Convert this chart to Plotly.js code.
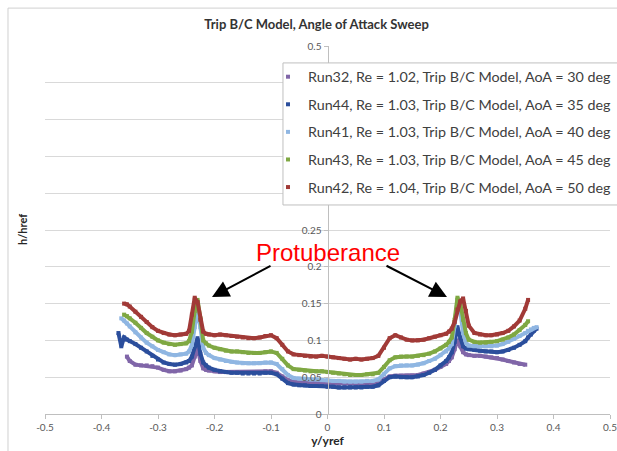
<!DOCTYPE html>
<html>
<head>
<meta charset="utf-8">
<script src="https://cdn.plot.ly/plotly-3.0.1.min.js"></script>
<style>
  html, body { margin: 0; padding: 0; background: #ffffff; }
  #chart { width: 617px; height: 451px; }
</style>
</head>
<body>
<div id="chart"></div>
<script>
// Spanwise stations y/yref shared by all runs
const X = [-0.37,-0.365,-0.36,-0.355,-0.35,-0.34,-0.33,-0.32,-0.31,-0.30,
  -0.29,-0.28,-0.27,-0.26,-0.25,-0.245,-0.24,-0.235,-0.23,-0.225,
  -0.22,-0.215,-0.21,-0.20,-0.19,-0.18,-0.17,-0.16,-0.15,-0.14,
  -0.13,-0.12,-0.11,-0.10,-0.09,-0.08,-0.07,-0.06,-0.05,-0.04,
  -0.03,-0.02,-0.01,0,0.01,0.02,0.03,0.04,0.05,0.06,
  0.07,0.08,0.09,0.10,0.11,0.12,0.13,0.14,0.15,0.16,
  0.17,0.18,0.19,0.20,0.21,0.215,0.22,0.225,0.23,0.235,
  0.24,0.245,0.25,0.26,0.27,0.28,0.29,0.30,0.31,0.32,
  0.33,0.34,0.35,0.355,0.36,0.365,0.37];

// h/href for each run
const run32 = [null,null,null,0.078,0.072,0.067,0.066,0.066,0.065,0.063,
  0.060,0.058,0.058,0.059,0.061,0.063,0.066,0.078,0.090,0.072,
  0.062,0.060,0.059,0.058,0.057,0.057,0.057,0.057,0.057,0.057,
  0.057,0.057,0.058,0.058,0.056,0.051,0.046,0.044,0.043,0.043,
  0.042,0.042,0.042,0.042,0.041,0.041,0.041,0.041,0.041,0.041,
  0.041,0.042,0.043,0.047,0.051,0.052,0.052,0.052,0.052,0.053,
  0.055,0.057,0.060,0.064,0.068,0.072,0.077,0.088,0.100,0.092,
  0.084,0.081,0.080,0.079,0.079,0.078,0.077,0.076,0.074,0.072,
  0.070,0.068,0.067,null,null,null,null];

const run44 = [0.110,0.092,0.104,0.101,0.099,0.095,0.090,0.085,0.079,0.074,
  0.070,0.068,0.067,0.068,0.070,0.072,0.078,0.092,0.103,0.082,
  0.070,0.066,0.063,0.060,0.058,0.057,0.056,0.056,0.055,0.055,
  0.055,0.055,0.056,0.056,0.054,0.048,0.042,0.040,0.039,0.039,
  0.038,0.038,0.038,0.037,0.037,0.036,0.036,0.036,0.036,0.036,
  0.037,0.037,0.039,0.045,0.050,0.051,0.050,0.050,0.050,0.051,
  0.053,0.056,0.060,0.066,0.072,0.077,0.084,0.098,0.118,0.104,
  0.092,0.089,0.088,0.087,0.086,0.085,0.085,0.084,0.085,0.087,
  0.090,0.094,0.099,0.104,0.108,0.113,0.116];

const run41 = [null,0.130,0.127,0.123,0.119,0.111,0.104,0.097,0.092,0.087,
  0.084,0.081,0.080,0.081,0.082,0.085,0.094,0.118,0.142,0.118,
  0.090,0.083,0.080,0.076,0.074,0.072,0.071,0.070,0.069,0.069,
  0.069,0.069,0.070,0.070,0.068,0.061,0.053,0.049,0.048,0.048,
  0.047,0.047,0.046,0.046,0.045,0.045,0.044,0.044,0.044,0.044,
  0.045,0.045,0.047,0.054,0.062,0.065,0.066,0.066,0.066,0.067,
  0.069,0.072,0.075,0.080,0.085,0.089,0.095,0.120,0.155,0.140,
  0.110,0.097,0.093,0.092,0.092,0.092,0.092,0.093,0.095,0.098,
  0.102,0.106,0.110,0.113,0.115,0.117,0.118];

const run43 = [null,null,0.135,0.133,0.130,0.124,0.117,0.110,0.105,0.100,
  0.097,0.095,0.094,0.095,0.096,0.099,0.112,0.140,0.155,0.130,
  0.100,0.096,0.093,0.090,0.088,0.086,0.085,0.085,0.084,0.083,
  0.083,0.083,0.084,0.085,0.083,0.075,0.066,0.061,0.060,0.059,
  0.058,0.058,0.058,0.057,0.056,0.055,0.054,0.053,0.053,0.053,
  0.054,0.054,0.056,0.064,0.073,0.077,0.078,0.078,0.078,0.079,
  0.080,0.082,0.085,0.089,0.094,0.098,0.104,0.128,0.158,0.150,
  0.128,0.110,0.101,0.098,0.097,0.097,0.098,0.099,0.101,0.104,
  0.108,0.114,0.121,0.126,null,null,null];

const run42 = [null,null,0.150,0.149,0.146,0.139,0.132,0.125,0.118,0.113,
  0.110,0.108,0.107,0.108,0.109,0.113,0.135,0.158,0.152,0.128,
  0.112,0.109,0.108,0.107,0.108,0.107,0.106,0.105,0.104,0.103,
  0.103,0.104,0.106,0.107,0.103,0.094,0.085,0.081,0.080,0.079,
  0.078,0.078,0.079,0.078,0.077,0.076,0.075,0.074,0.075,0.074,
  0.075,0.076,0.079,0.090,0.103,0.107,0.104,0.101,0.100,0.100,
  0.101,0.103,0.105,0.107,0.109,0.112,0.116,0.125,0.142,0.153,
  0.157,0.140,0.120,0.110,0.108,0.107,0.107,0.108,0.110,0.113,
  0.119,0.127,0.143,0.155,null,null,null];

const seriesNames = [
  'Run32, Re = 1.02, Trip B/C Model, AoA = 30 deg',
  'Run44, Re = 1.03, Trip B/C Model, AoA = 35 deg',
  'Run41, Re = 1.03, Trip B/C Model, AoA = 40 deg',
  'Run43, Re = 1.03, Trip B/C Model, AoA = 45 deg',
  'Run42, Re = 1.04, Trip B/C Model, AoA = 50 deg'
];
const seriesValues = [run32, run44, run41, run43, run42];
const seriesColors = ['#8066a8', '#2b4e9c', '#8fb6e2', '#7fa843', '#a13a37'];

const xTickVals = [-0.5,-0.4,-0.3,-0.2,-0.1,0,0.1,0.2,0.3,0.4,0.5];
const xTickText = ['-0.5','-0.4','-0.3','-0.2','-0.1','0','0.1','0.2','0.3','0.4','0.5'];
// labels from 0.3 to 0.45 sit under the legend box
const yTickVals = [0,0.05,0.1,0.15,0.2,0.25,0.3,0.35,0.4,0.45,0.5];
const yTickText = ['0','0.05','0.1','0.15','0.2','0.25','','','','','0.5'];

const traces = [];
seriesValues.forEach((vals, i) => {
  // dense band of points joined by a thick line
  traces.push({
    x: X, y: vals, type: 'scatter', mode: 'lines',
    line: { color: seriesColors[i], width: 4 },
    legendgroup: 'g' + i, showlegend: false, hoverinfo: 'skip'
  });
  traces.push({
    x: X, y: vals, type: 'scatter', mode: 'markers',
    name: seriesNames[i], legendgroup: 'g' + i,
    marker: { color: seriesColors[i], size: 4, symbol: 'square' }
  });
});

const FONT = 'Lato, "Open Sans", sans-serif';

const layout = {
  width: 617, height: 451,
  margin: { l: 45, r: 7, t: 46, b: 37, autoexpand: false },
  paper_bgcolor: '#ffffff', plot_bgcolor: '#ffffff',
  font: { family: FONT, color: '#595959' },
  title: {
    text: '<b>Trip B/C Model, Angle of Attack Sweep</b>',
    font: { family: FONT, size: 13, color: '#333333' },
    xref: 'container', x: 0.513, xanchor: 'center',
    yref: 'container', y: 0.946, yanchor: 'middle'
  },
  showlegend: true,
  legend: {
    x: 0.3947, y: 0.9595, xanchor: 'left', yanchor: 'top',
    bgcolor: 'rgba(0,0,0,0)', borderwidth: 0,
    traceorder: 'grouped', tracegroupgap: 6,
    font: { family: FONT, size: 14.3, color: '#404040' }
  },
  xaxis: {
    range: [-0.5, 0.5], tickvals: xTickVals, ticktext: xTickText,
    ticklabeloverflow: 'allow',
    showgrid: false, zeroline: false,
    showline: true, linecolor: '#bfbfbf', linewidth: 1,
    ticks: 'outside', ticklen: 4, tickcolor: '#bfbfbf',
    tickfont: { family: FONT, size: 10, color: '#595959' },
    title: { text: '<b>y/yref</b>', font: { family: FONT, size: 12, color: '#262626' }, standoff: 2 }
  },
  yaxis: {
    range: [0, 0.5], tickvals: yTickVals, ticktext: yTickText,
    anchor: 'free', position: 0.5,
    showgrid: true, gridcolor: '#d9d9d9', gridwidth: 1,
    zeroline: false, showline: true, linecolor: '#bfbfbf', linewidth: 1,
    ticks: 'outside', ticklen: 4, tickcolor: '#bfbfbf',
    tickfont: { family: FONT, size: 10, color: '#595959' }
  },
  shapes: [
    // chart area frame
    { type: 'rect', xref: 'paper', yref: 'paper', x0: -0.0655, x1: 1.2, y0: -0.3, y1: 1.103,
      line: { color: '#d0d0d0', width: 1 }, fillcolor: 'rgba(0,0,0,0)', layer: 'below' },
    // legend box
    { type: 'rect', xref: 'paper', yref: 'paper', x0: 0.4212, x1: 1.05, y0: 0.568, y1: 0.954,
      line: { color: '#bfbfbf', width: 1 }, fillcolor: '#ffffff', layer: 'above' }
  ],
  annotations: [
    { xref: 'paper', yref: 'paper', x: -0.0407, y: 0.5, xanchor: 'center', yanchor: 'middle',
      text: '<b>h/href</b>', textangle: -90,
      showarrow: false, font: { family: FONT, size: 11, color: '#262626' } },
    { x: 0, y: 0.22, text: 'Protuberance', showarrow: false,
      font: { family: '"Liberation Sans", Arial, sans-serif', size: 24, color: '#ff0000' } },
    { x: -0.2044, y: 0.159, text: '', showarrow: true, ax: 60, ay: -32,
      arrowhead: 2, arrowsize: 1.7, arrowwidth: 2, arrowcolor: '#000000', standoff: 0 },
    { x: 0.2115, y: 0.159, text: '', showarrow: true, ax: -62, ay: -32,
      arrowhead: 2, arrowsize: 1.7, arrowwidth: 2, arrowcolor: '#000000', standoff: 0 }
  ]
};

Plotly.newPlot('chart', traces, layout, { displayModeBar: false, staticPlot: true });
</script>
</body>
</html>
